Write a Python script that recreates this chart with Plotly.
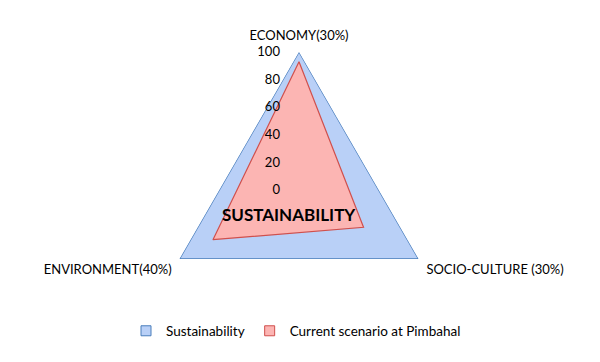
import plotly.graph_objects as go

categories = ["ECONOMY(30%)", "SOCIO-CULTURE (30%)", "ENVIRONMENT(40%)"]
sustainability = [100, 100, 100]
current = [93, 54, 72]
radial_ticks = [0, 20, 40, 60, 80, 100]

FONT = "Lato, Open Sans, sans-serif"
BLUE_LINE, BLUE_FILL = "#4a7ebb", "#b9d0f7"
RED_LINE, RED_FILL = "#d0504d", "#fcb5b3"

fig = go.Figure()
fig.add_trace(go.Scatterpolar(
    r=sustainability + sustainability[:1],
    theta=categories + categories[:1],
    name="Sustainability", showlegend=False,
    mode="lines", line=dict(color=BLUE_LINE, width=1.3),
    fill="toself", fillcolor=BLUE_FILL,
))
fig.add_trace(go.Scatterpolar(
    r=current + current[:1],
    theta=categories + categories[:1],
    name="Current scenario at Pimbahal", showlegend=False,
    mode="lines", line=dict(color=RED_LINE, width=1.2),
    fill="toself", fillcolor=RED_FILL,
))
# legend entries (square swatches)
for name, fc, lc in [("Sustainability", BLUE_FILL, BLUE_LINE),
                     ("Current scenario at Pimbahal", RED_FILL, RED_LINE)]:
    fig.add_trace(go.Scatterpolar(
        r=[None], theta=[categories[0]], name=name, mode="markers",
        marker=dict(symbol="square", size=10, color=fc, line=dict(color=lc, width=1)),
    ))

fig.update_layout(
    width=600, height=362,
    paper_bgcolor="white",
    margin=dict(l=0, r=0, t=0, b=0),
    font=dict(family=FONT, size=13, color="#000"),
    polar=dict(
        domain=dict(x=[153/600, 429/600], y=[1-320/362, 1-44/362]),
        bgcolor="rgba(0,0,0,0)",
        gridshape="linear",
        angularaxis=dict(
            rotation=90, direction="clockwise",
            showgrid=False, showline=False,
            ticks="outside", ticklen=6, tickcolor="rgba(0,0,0,0)",
            tickfont=dict(size=13, family=FONT),
        ),
        radialaxis=dict(
            range=[0, 100], tickvals=radial_ticks,
            showgrid=False, showline=False,
            ticks="outside", ticklen=14, tickcolor="rgba(0,0,0,0)",
            angle=90, tickangle=90, side="counterclockwise",
            tickfont=dict(size=13, family=FONT),
        ),
    ),
    legend=dict(
        orientation="h", x=0.48, xanchor="center", y=1-323/362, yanchor="middle",
        font=dict(size=13.5, family=FONT),
    ),
    annotations=[dict(
        text="<b>SUSTAINABILITY</b>", x=281/600, y=1-206/362,
        xref="paper", yref="paper", showarrow=False,
        font=dict(size=17, family=FONT, color="#000"),
    )],
)

fig.write_html("out.html")
